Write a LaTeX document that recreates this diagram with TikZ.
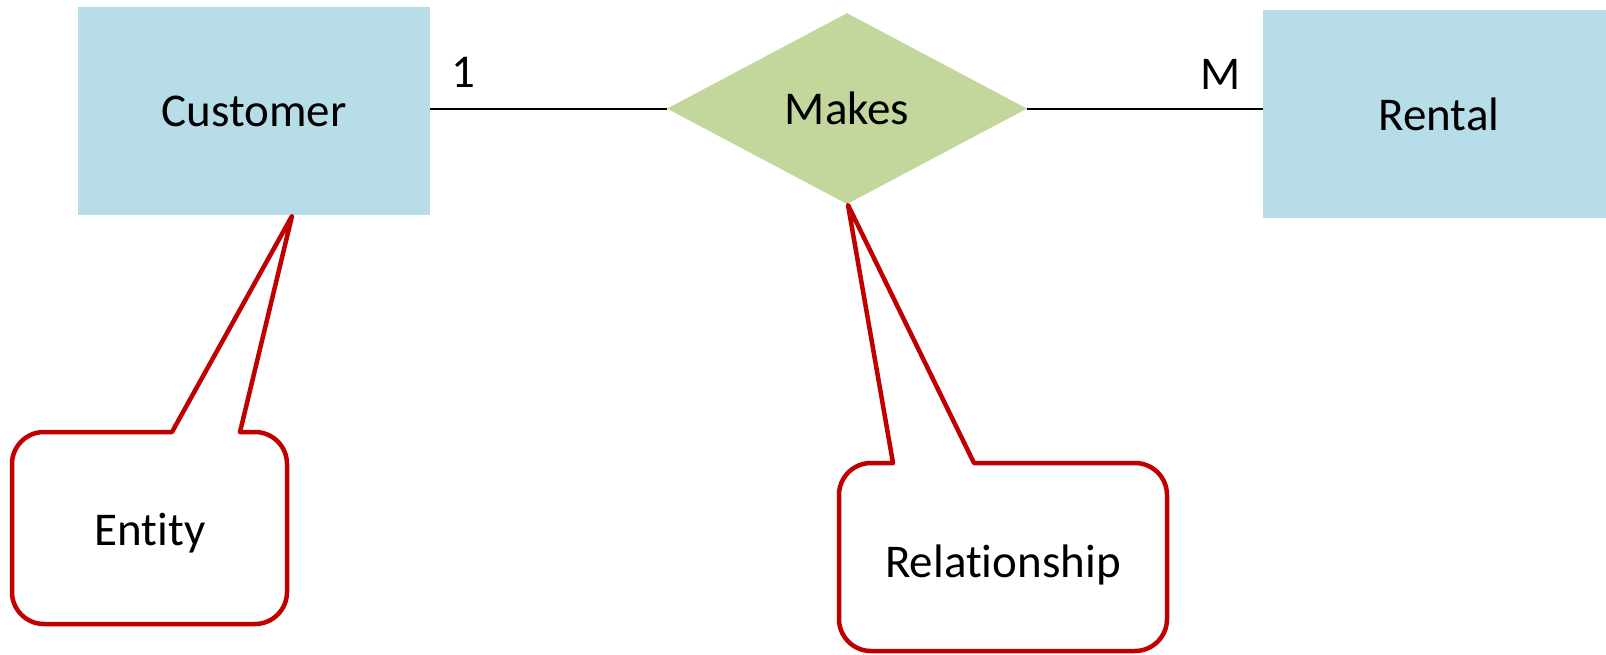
\documentclass[tikz,border=0pt]{standalone}
\usepackage{fontspec}
\setmainfont{Carlito}[Ligatures={NoCommon}]
\usetikzlibrary{shapes.geometric}
\definecolor{entblue}{HTML}{B7DDE8}
\definecolor{relgreen}{HTML}{C3D69B}
\definecolor{callred}{HTML}{C00000}
\tikzset{
  entbox/.style={rectangle, fill=entblue, inner sep=0pt, minimum width=352pt, minimum height=208pt},
  relbox/.style={diamond, fill=relgreen, inner sep=0pt, minimum width=360pt, minimum height=191pt},
  conn/.style={draw=black, line width=2pt},
  callout/.style={draw=callred, line width=4.5pt, line join=round},
  txt/.style={font=\fontsize{47}{56}\selectfont, text=black},
}
\begin{document}
\begin{tikzpicture}[x=1pt, y=-1pt]
\useasboundingbox (0,0) rectangle (1606,654);
\node[entbox, txt] (cust) at (254,111) {Customer};
\node[entbox, txt] (rent) at (1439,114) {Rental};
\node[relbox, txt] (mk) at (847,108.6) {Makes};
\draw[conn] (mk.west -| cust.east) -- (mk.west);
\draw[conn] (mk.east) -- (mk.east -| rent.west);
\node[txt, anchor=base] (one) at (463,87) {1};
\node[txt, anchor=base] (many) at (1221,89) {M};
% Entity callout
\draw[callout] (12,528) [rounded corners=32pt] -- (12,624) -- (287,624) -- (287,432)
  [sharp corners] -- (240,432) -- (292,216) -- (172,432) [rounded corners=32pt] -- (12,432) -- cycle;
\node[txt, anchor=base] (ent) at (150,545) {Entity};
% Relationship callout
\draw[callout] (839,557) [rounded corners=32pt] -- (839,651) -- (1167,651) -- (1167,463)
  [sharp corners] -- (974,463) -- (848,205) -- (893,463) [rounded corners=32pt] -- (839,463) -- cycle;
\node[txt, anchor=base] (rel) at (1003,577) {Relationship};
\end{tikzpicture}
\end{document}
